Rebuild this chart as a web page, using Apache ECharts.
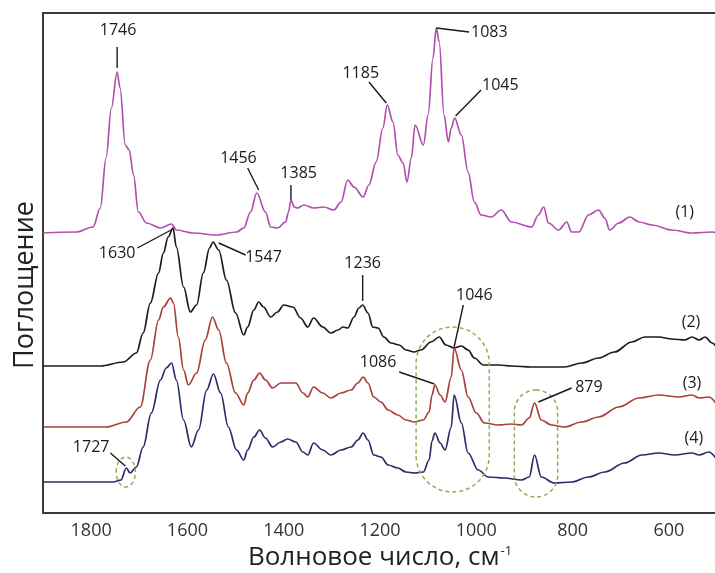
<!DOCTYPE html>
<html>
<head>
<meta charset="utf-8">
<script src="https://cdn.jsdelivr.net/npm/echarts@6/dist/echarts.min.js"></script>
<style>
  html, body { margin: 0; padding: 0; background: #fff; }
  #chart { width: 715px; height: 573px; }
</style>
</head>
<body>
<div id="chart"></div>
<script>
// Wavenumber tick labels (cm^-1)
const tickValues = [1800, 1600, 1400, 1200, 1000, 800, 600];

// IR spectra as [wavenumber, absorbance (stacked, arbitrary units)]
const spectrum1 = [
  [1900,56.0],[1831,56.2],[1796,57.2],[1781,61.0],[1769,71.0],[1758,81.0],[1746,88.2],[1740,85.0],
  [1729,73.6],[1721,72.6],[1712,67.6],[1702,60.2],[1685,58.0],[1656,57.0],[1633,57.8],[1623,56.6],
  [1588,56.0],[1540,55.6],[1498,56.2],[1483,57.0],[1469,60.2],[1456,64.0],[1438,60.2],[1427,57.2],
  [1413,57.0],[1396,58.2],[1390,60.2],[1385,62.6],[1378,61.2],[1371,61.0],[1358,61.6],[1338,61.0],
  [1317,61.2],[1296,60.6],[1281,62.2],[1267,66.6],[1254,65.2],[1235,63.2],[1223,65.6],[1208,70.2],
  [1194,77.0],[1185,81.6],[1173,78.2],[1163,71.6],[1152,70.0],[1144,66.2],[1135,71.0],[1127,77.6],
  [1110,73.6],[1100,79.6],[1090,91.0],[1083,97.0],[1077,94.2],[1067,79.6],[1058,74.2],[1052,77.0],
  [1045,79.0],[1031,75.6],[1017,68.2],[1004,62.2],[990,59.6],[969,59.2],[948,60.6],[927,58.2],
  [885,57.2],[871,59.6],[860,61.2],[850,58.0],[829,56.6],[812,58.2],[802,56.2],[787,56.2],
  [767,59.6],[746,60.6],[733,59.0],[723,56.6],[704,58.0],[681,59.2],[662,58.2],[635,57.6],
  [594,56.6],[552,56.0],[510,56.2],[500,56.0]
];
const spectrum2 = [
  [1900,29.4],[1781,29.4],[1733,30.2],[1706,32.0],[1692,36.0],[1677,42.0],[1660,48.0],[1650,52.0],
  [1640,55.2],[1630,57.0],[1623,53.2],[1608,45.2],[1594,40.2],[1581,41.6],[1567,48.0],[1554,53.0],
  [1547,54.2],[1535,52.6],[1519,46.6],[1500,40.0],[1483,35.6],[1475,37.2],[1462,40.6],[1452,42.2],
  [1442,41.2],[1427,39.2],[1413,40.2],[1400,41.6],[1381,41.2],[1365,39.0],[1350,37.2],[1338,39.0],
  [1319,37.2],[1302,36.0],[1287,36.6],[1277,37.2],[1267,37.0],[1254,39.2],[1244,41.0],[1236,41.6],
  [1225,40.0],[1215,37.2],[1204,37.0],[1192,35.2],[1177,34.0],[1160,33.6],[1146,32.6],[1129,32.2],
  [1115,32.6],[1094,34.2],[1077,35.2],[1063,33.6],[1046,33.0],[1031,33.4],[1017,32.6],[1004,31.0],
  [985,29.6],[954,29.6],[927,29.4],[885,29.2],[850,29.2],[817,29.2],[781,30.0],[746,31.0],
  [713,32.2],[677,34.2],[650,35.2],[621,35.2],[594,34.8],[567,34.6],[552,35.2],[537,34.6],
  [525,35.2],[510,34.0],[500,33.0]
];
const spectrum3 = [
  [1900,17.2],[1769,17.2],[1727,18.2],[1698,21.2],[1677,30.6],[1660,38.6],[1650,41.2],[1635,43.0],
  [1629,42.0],[1619,35.2],[1608,28.6],[1598,25.6],[1581,28.0],[1563,34.6],[1548,39.2],[1535,36.6],
  [1519,30.0],[1500,24.0],[1483,21.6],[1475,24.0],[1462,26.6],[1450,28.0],[1438,26.6],[1423,25.0],
  [1406,26.0],[1390,26.0],[1375,26.0],[1360,24.0],[1350,23.2],[1338,25.2],[1319,24.0],[1302,23.0],
  [1281,24.0],[1260,24.6],[1246,26.0],[1235,27.2],[1225,26.0],[1213,23.2],[1198,22.2],[1183,20.6],
  [1163,19.6],[1146,18.6],[1129,18.2],[1110,18.6],[1098,20.2],[1092,23.6],[1086,25.6],[1075,23.6],
  [1065,22.2],[1052,27.2],[1046,33.0],[1031,28.6],[1017,23.2],[1000,20.0],[983,18.0],[954,17.6],
  [927,17.8],[906,17.6],[890,19.0],[879,22.0],[865,18.6],[844,17.6],[817,17.2],[781,18.2],
  [746,19.2],[704,21.2],[662,23.0],[621,23.6],[579,23.2],[552,23.6],[537,23.0],[517,23.2],[500,21.6]
];
const spectrum4 = [
  [1900,6.2],[1754,6.2],[1738,6.6],[1727,9.0],[1719,8.0],[1706,9.2],[1692,13.2],[1675,20.0],
  [1656,26.6],[1644,29.0],[1633,30.0],[1623,26.6],[1608,18.6],[1592,13.2],[1577,16.6],[1560,24.6],
  [1546,27.8],[1531,24.0],[1515,17.2],[1498,12.6],[1483,10.6],[1475,12.6],[1462,15.2],[1450,16.6],
  [1438,15.0],[1423,13.2],[1406,14.2],[1392,14.8],[1375,14.2],[1360,12.2],[1350,11.6],[1338,14.0],
  [1319,12.6],[1302,11.6],[1281,12.6],[1260,13.2],[1246,14.6],[1235,16.0],[1225,14.6],[1213,11.6],
  [1198,11.2],[1183,9.6],[1163,9.0],[1146,8.2],[1129,8.0],[1110,8.2],[1098,10.6],[1092,14.4],
  [1086,16.0],[1075,14.0],[1065,12.6],[1052,17.2],[1046,23.6],[1031,18.0],[1017,12.0],[996,8.6],
  [975,7.2],[942,7.0],[906,6.6],[890,7.2],[879,11.6],[865,7.2],[838,6.0],[802,6.2],
  [767,7.2],[733,8.2],[692,10.0],[656,11.6],[621,12.0],[588,11.6],[552,12.0],[537,11.6],
  [517,12.2],[500,10.6]
];

// Peak annotations: [text, textX, textY, leaderStartX, leaderStartY, leaderEndX, leaderEndY]
const peakLabels = [
  ['1746', 1744, 96.6, 1746, 93.2, 1746, 89.0],
  ['1456', 1494, 71.0, 1475, 69.0, 1452, 64.6],
  ['1385', 1369, 68.0, 1385, 65.6, 1385, 62.6],
  ['1185', 1240, 88.0, 1223, 86.2, 1187, 82.0],
  ['1083', 973, 96.2, 1083, 97.0, 1015, 96.2],
  ['1045', 950, 85.6, 990, 84.6, 1043, 79.4],
  ['1630', 1746, 52.0, 1704, 53.0, 1634, 56.6],
  ['1547', 1442, 51.2, 1479, 51.6, 1535, 54.0],
  ['1236', 1236, 50.0, 1236, 47.6, 1236, 42.4],
  ['1046', 1004, 43.6, 1027, 41.6, 1046, 33.2],
  ['1086', 1204, 30.2, 1160, 28.2, 1087, 25.8],
  ['879', 766, 25.2, 802, 25.0, 871, 22.2],
  ['1727', 1800, 13.2, 1760, 12.0, 1729, 9.4]
];

// Curve numbers: [text, x, y]
const curveLabels = [
  ['(1)', 567, 60.2],
  ['(2)', 554, 38.2],
  ['(3)', 552, 26.0],
  ['(4)', 548, 15.0]
];

// Highlighted regions: [x1, y1, x2, y2, kind]
const highlightRegions = [
  [1125, 37.2, 973, 4.2, 'stadium'],
  [921, 24.6, 831, 3.2, 'stadium'],
  [1748, 11.2, 1708, 5.2, 'ellipse']
];

const FONT = '"Open Sans", "Noto Sans", sans-serif';
const chart = echarts.init(document.getElementById('chart'));

function spectrumSeries(name, data, color) {
  return {
    name, type: 'line', data,
    showSymbol: false, smooth: 0.35, smoothMonotone: 'x',
    lineStyle: { color, width: 1.7 },
    silent: true, z: 3
  };
}

chart.setOption({
  animation: false,
  backgroundColor: '#fff',
  grid: {
    left: 43, top: 13, width: 674, height: 500,
    show: true, borderColor: '#3a3a3a', borderWidth: 2,
    containLabel: false, outerBoundsMode: 'none'
  },
  xAxis: {
    type: 'value', inverse: true, min: 500, max: 1900, interval: 100,
    axisLine: { show: false }, axisTick: { show: false }, splitLine: { show: false },
    axisLabel: {
      margin: 9, color: '#333', fontSize: 18, fontFamily: FONT,
      formatter: v => tickValues.includes(v) ? String(v) : ''
    },
    name: '{m|Волновое число, см}{s|-1}',
    nameLocation: 'middle', nameGap: 32,
    nameTextStyle: {
      rich: {
        m: { fontSize: 26, fontFamily: FONT, color: '#222' },
        s: { fontSize: 13, fontFamily: FONT, color: '#222', verticalAlign: 'top', padding: [0, 0, 10, 1] }
      }
    }
  },
  yAxis: {
    type: 'value', min: 0, max: 100,
    axisLine: { show: false }, axisTick: { show: false },
    axisLabel: { show: false }, splitLine: { show: false }
  },
  graphic: [{
    type: 'text', x: 25, y: 285, rotation: Math.PI / 2,
    style: {
      text: 'Поглощение', font: '27px ' + FONT, fill: '#222',
      align: 'center', verticalAlign: 'middle'
    }
  }],
  series: [
    spectrumSeries('(1)', spectrum1, '#b24fb0'),
    spectrumSeries('(2)', spectrum2, '#1c1c1c'),
    spectrumSeries('(3)', spectrum3, '#a8403c'),
    spectrumSeries('(4)', spectrum4, '#2c2c6c'),
    {
      type: 'custom', silent: true, z: 4,
      data: highlightRegions.map(r => [r[0], r[1], r[2], r[3]]),
      renderItem(params, api) {
        const r = highlightRegions[params.dataIndex];
        const a = api.coord([r[0], r[1]]);
        const b = api.coord([r[2], r[3]]);
        const x = Math.min(a[0], b[0]), y = Math.min(a[1], b[1]);
        const w = Math.abs(b[0] - a[0]), h = Math.abs(b[1] - a[1]);
        const style = { stroke: '#8fae5a', fill: null, lineWidth: 1.5, lineDash: [4, 3] };
        if (r[4] === 'ellipse') {
          return { type: 'ellipse', shape: { cx: x + w / 2, cy: y + h / 2, rx: w / 2, ry: h / 2 }, style };
        }
        return { type: 'rect', shape: { x, y, width: w, height: h, r: w / 2 }, style };
      }
    },
    {
      type: 'custom', silent: true, z: 5,
      data: peakLabels.map(p => [p[1], p[2]]),
      renderItem(params, api) {
        const p = peakLabels[params.dataIndex];
        const t = api.coord([p[1], p[2]]);
        const s = api.coord([p[3], p[4]]);
        const e = api.coord([p[5], p[6]]);
        return {
          type: 'group',
          children: [
            { type: 'line', shape: { x1: s[0], y1: s[1], x2: e[0], y2: e[1] },
              style: { stroke: '#1a1a1a', lineWidth: 1.4 } },
            { type: 'text', x: t[0], y: t[1],
              style: { text: p[0], font: '16px ' + FONT, fill: '#1a1a1a', align: 'center', verticalAlign: 'middle' } }
          ]
        };
      }
    },
    {
      type: 'custom', silent: true, z: 5,
      data: curveLabels.map(c => [c[1], c[2]]),
      renderItem(params, api) {
        const c = curveLabels[params.dataIndex];
        const t = api.coord([c[1], c[2]]);
        return { type: 'text', x: t[0], y: t[1],
          style: { text: c[0], font: '16px ' + FONT, fill: '#1a1a1a', align: 'center', verticalAlign: 'middle' } };
      }
    }
  ]
});
</script>
</body>
</html>
